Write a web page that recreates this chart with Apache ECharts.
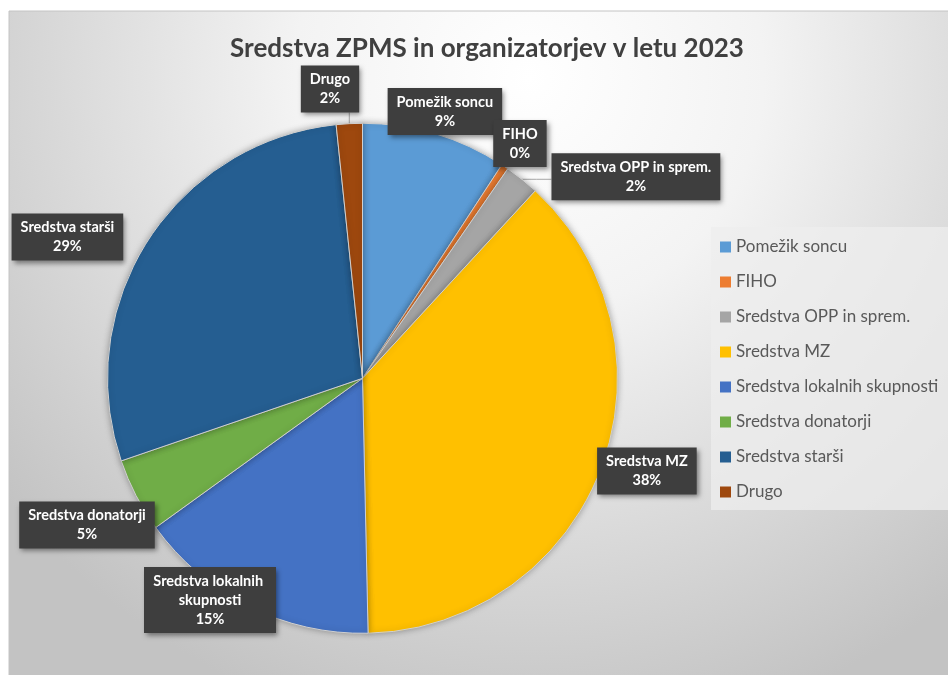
<!DOCTYPE html>
<html><head><meta charset="utf-8">
<script src="https://cdn.jsdelivr.net/npm/echarts@6/dist/echarts.min.js"></script>
<style>html,body{margin:0;padding:0;background:#fff}#c{width:948px;height:675px}</style>
</head><body><div id="c"></div>
<script>
const titleText = 'Sredstva ZPMS in organizatorjev v letu 2023';
const categories = ['Pomežik soncu','FIHO','Sredstva OPP in sprem.','Sredstva MZ','Sredstva lokalnih skupnosti','Sredstva donatorji','Sredstva starši','Drugo'];
const shares = [9.2, 0.45, 2.2, 37.8, 15.4, 4.7, 28.6, 1.65];
const colors = ['#5B9BD5','#ED7D31','#A5A5A5','#FFC000','#4472C4','#70AD47','#255E91','#9E480E'];

// label placement (layout): radius factor and angular shift (deg) from slice mid-angle
const labelRadius = [1.095, 1.109, 1.332, 1.173, 1.055, 1.224, 1.283, 1.142];
const labelAngleShift = [0.6, -0.1, 14.9, -2.65, 8.07, -0.67, -7.0, -3.44];
const leaderLine = [false, false, true, false, false, false, false, true];

const FONT = 'Lato';
const CX = 362.5, CY = 378.3, R = 255;
const total = shares.reduce((a, b) => a + b, 0);
const midAngles = [];
let acc = 0;
shares.forEach(v => { midAngles.push((acc + v / 2) / total * 360); acc += v; });

function polar(angDeg, r) {
  const a = angDeg * Math.PI / 180;
  return [CX + r * Math.sin(a), CY - r * Math.cos(a)];
}

const chart = echarts.init(document.getElementById('c'), null, {renderer: 'canvas'});
chart.setOption({
  backgroundColor: '#ffffff',
  animation: false,
  graphic: [{
    type: 'rect', z: -10, silent: true,
    shape: {x: 9, y: 11, width: 945, height: 670},
    style: {
      fill: new echarts.graphic.RadialGradient(0.55, 0.1, 1, [
        {offset: 0, color: '#ffffff'},
        {offset: 0.35, color: '#f3f3f3'},
        {offset: 1, color: '#c3c3c3'}
      ]),
      stroke: '#c4c4c4', lineWidth: 1
    }
  }],
  title: {
    text: titleText,
    left: 482, top: 31, textAlign: 'center',
    textStyle: {fontFamily: FONT, fontSize: 26, fontWeight: 'bold', color: '#404040'}
  },
  legend: {
    orient: 'vertical', left: 711, top: 227,
    icon: 'rect', itemWidth: 11, itemHeight: 11, itemGap: 15,
    padding: [10, 30, 8, 9],
    backgroundColor: 'rgba(238,238,238,0.75)',
    selectedMode: false,
    itemStyle: {borderWidth: 0, shadowBlur: 0},
    textStyle: {fontFamily: FONT, fontSize: 17, color: '#595959', lineHeight: 20},
    data: categories
  },
  series: [{
    type: 'pie',
    center: [CX, CY], radius: R,
    startAngle: 90, clockwise: true,
    avoidLabelOverlap: false,
    itemStyle: {borderColor: '#d0d0d0', borderWidth: 1, shadowBlur: 6, shadowColor: 'rgba(0,0,0,0.3)'},
    label: {
      show: true, position: 'outside',
      formatter: p => p.name + '\n' + Math.round(p.percent) + '%',
      color: '#ffffff', fontFamily: FONT, fontWeight: 'bold', fontSize: 14.5, lineHeight: 19,
      align: 'center',
      backgroundColor: '#3e3e3e', padding: [5, 9, 4, 9],
      shadowBlur: 5, shadowOffsetX: 2, shadowOffsetY: 3, shadowColor: 'rgba(0,0,0,0.45)'
    },
    labelLine: {show: true, length: 5, length2: 5, lineStyle: {color: '#a6a6a6', width: 1}},
    labelLayout: function (params) {
      const i = params.dataIndex;
      const c = polar(midAngles[i] + labelAngleShift[i], R * labelRadius[i]);
      const w = params.labelRect.width, h = params.labelRect.height;
      const res = {x: c[0], y: c[1], align: 'center', verticalAlign: 'middle'};
      if (leaderLine[i]) {
        const s = polar(midAngles[i], R);
        const ex = Math.min(Math.max(s[0], c[0] - w / 2), c[0] + w / 2);
        const ey = Math.min(Math.max(s[1], c[1] - h / 2), c[1] + h / 2);
        res.labelLinePoints = [s, [(s[0] + ex) / 2, (s[1] + ey) / 2], [ex, ey]];
      }
      return res;
    },
    data: categories.map((n, i) => {
      const d = {name: n, value: shares[i], itemStyle: {color: colors[i]}, labelLine: {show: leaderLine[i]}};
      if (n.length > 24) d.label = {width: 120, overflow: 'break', padding: [5, 6, 4, 6]};
      return d;
    })
  }]
});
</script>
</body></html>
